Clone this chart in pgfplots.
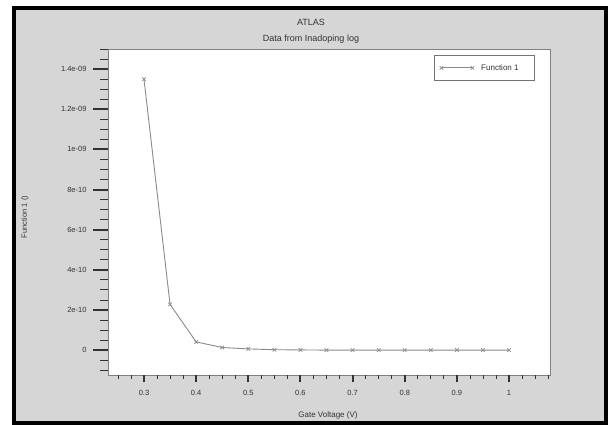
\documentclass[border=0pt]{standalone}
\usepackage{fontspec}
\setmainfont{Liberation Sans}
\usepackage{pgfplots}
\pgfplotsset{compat=1.18}
\definecolor{panel}{HTML}{D6D6D6}
\definecolor{curve}{HTML}{8A8A8A}
\definecolor{ink}{HTML}{333333}

\begin{document}
\begin{tikzpicture}[x=1pt,y=1pt]
\useasboundingbox (0,0) rectangle (608,424);
\fill[white] (0,0) rectangle (608,424);
\fill[panel] (14,1.5) rectangle (605.5,416);
\draw[black,line width=4pt] (14,1.5) rectangle (605.5,416);

% main axis: box, y ticks, curve, legend
\begin{axis}[
  at={(108pt,49pt)}, anchor=south west, scale only axis,
  width=442pt, height=326pt,
  xmin=0.231, xmax=1.0786, ymin=-1.24e-10, ymax=1.5e-9,
  axis background/.style={fill=white},
  axis line style={draw=black!50, line width=0.8pt},
  tick align=outside,
  xtick=\empty,
  ytick={0,2e-10,4e-10,6e-10,8e-10,1e-9,1.2e-9,1.4e-9},
  yticklabels={0,2e-10,4e-10,6e-10,8e-10,1e-09,1.2e-09,1.4e-09},
  minor ytick={-1e-10,-5e-11,5e-11,1e-10,1.5e-10,2.5e-10,3e-10,3.5e-10,4.5e-10,5e-10,5.5e-10,6.5e-10,7e-10,7.5e-10,8.5e-10,9e-10,9.5e-10,1.05e-9,1.1e-9,1.15e-9,1.25e-9,1.3e-9,1.35e-9,1.45e-9,1.5e-9},
  scaled y ticks=false,
  ytick pos=left,
  major tick length=15pt, minor tick length=8pt,
  every major tick/.append style={line width=2pt, draw=ink},
  every minor tick/.append style={line width=0.8pt, draw=ink},
  yticklabel style={font=\fontsize{7.5}{9}\selectfont, text=ink, xshift=-3pt},
  /pgf/number format/assume math mode=true,
  legend style={at={(0.966,0.982)}, anchor=north east, draw=black!55,
    line width=0.8pt, fill=white, font=\fontsize{8}{9}\selectfont,
    text=ink, inner xsep=5pt, inner ysep=7pt},
  legend image code/.code={\draw plot coordinates {(0pt,0pt) (31pt,0pt)};},
]
\addplot[curve, line width=0.9pt, mark=x, mark size=2.5pt,
  mark options={curve, line width=0.7pt}] coordinates {
  (0.30,1.35e-9) (0.35,2.28e-10) (0.40,4.1e-11) (0.45,1.3e-11)
  (0.50,6e-12) (0.55,2e-12) (0.60,1e-12) (0.65,0) (0.70,0)
  (0.75,0) (0.80,0) (0.85,0) (0.90,0) (0.95,0) (1.00,0)};
\addlegendentry{\hspace*{5pt}Function 1\hspace*{9pt}}
\end{axis}

% second axis only for the shorter x ticks
\begin{axis}[
  at={(108pt,49pt)}, anchor=south west, scale only axis,
  width=442pt, height=326pt,
  xmin=0.231, xmax=1.0786, ymin=0, ymax=1,
  axis line style={draw=none},
  tick align=outside,
  ytick=\empty,
  xtick={0.3,0.4,0.5,0.6,0.7,0.8,0.9,1},
  xticklabels={0.3,0.4,0.5,0.6,0.7,0.8,0.9,1},
  minor xtick={0.25,0.275,...,1.08},
  xtick pos=bottom,
  major tick length=7pt, minor tick length=3.5pt,
  every major tick/.append style={line width=2pt, draw=ink},
  every minor tick/.append style={line width=0.8pt, draw=ink},
  xticklabel style={font=\fontsize{7.5}{9}\selectfont, text=ink, yshift=-5pt},
  /pgf/number format/assume math mode=true,
]
\end{axis}

\node[font=\fontsize{9}{10}\selectfont, text=ink] at (311,402) {ATLAS};
\node[font=\fontsize{9}{10}\selectfont, text=ink] at (311,385) {Data from Inadoping log};
\node[font=\fontsize{8}{9}\selectfont, text=ink] at (328,9) {Gate Voltage (V)};
\node[font=\fontsize{7.5}{9}\selectfont, text=ink, rotate=90] at (25,207) {Function 1 ()};
\end{tikzpicture}
\end{document}
